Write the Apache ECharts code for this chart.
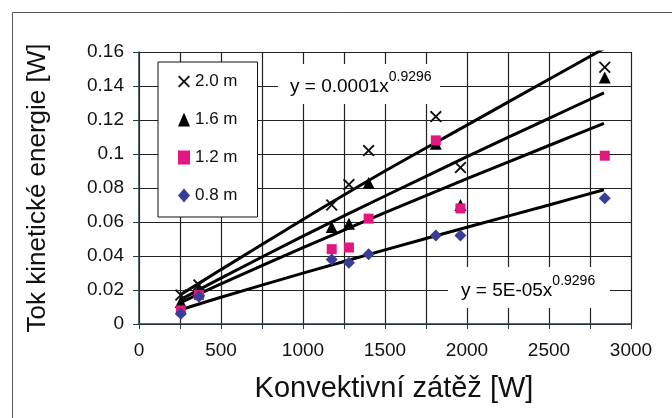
<!DOCTYPE html>
<html>
<head>
<meta charset="utf-8">
<script src="https://cdn.jsdelivr.net/npm/echarts@6/dist/echarts.min.js"></script>
<style>
  html, body { margin: 0; padding: 0; background: #fff; }
  #chart { width: 672px; height: 418px; }
</style>
</head>
<body>
<div id="chart"></div>
<script>
// measured points (x = konvektivni zatez [W])
var xVals = [255, 365, 1175, 1280, 1400, 1810, 1960, 2840];
var m20 = [0.017, 0.023, 0.070, 0.082, 0.102, 0.122, 0.092, 0.151];
var m16 = [0.013, 0.020, 0.057, 0.059, 0.083, 0.106, 0.070, 0.145];
var m12 = [0.008, 0.017, 0.044, 0.045, 0.062, 0.108, 0.068, 0.099];
var m08 = [0.006, 0.016, 0.038, 0.036, 0.041, 0.052, 0.052, 0.074];

// trend lines
var xFit = [250, 500, 1000, 1500, 2000, 2500, 2835];
var fit20 = [0.017, 0.032, 0.0615, 0.090, 0.117, 0.144, 0.162];
var fit16 = [0.0142, 0.027, 0.0517, 0.0753, 0.0984, 0.121, 0.136];
var fit12 = [0.0124, 0.0236, 0.0449, 0.0655, 0.0855, 0.105, 0.118];
var fit08 = [0.0082, 0.0157, 0.0299, 0.0436, 0.0569, 0.070, 0.079];

var names = ['2.0 m', '1.6 m', '1.2 m', '0.8 m'];
var xTicks = [0, 500, 1000, 1500, 2000, 2500, 3000];

var FONT = '"Liberation Sans", Arial, sans-serif';
var crossPath = 'path://M0,1.1L1.1,0L5,3.9L8.9,0L10,1.1L6.1,5L10,8.9L8.9,10L5,6.1L1.1,10L0,8.9L3.9,5Z';

function pairs(xs, ys) {
	var out = [];
	for (var i = 0; i < xs.length; i++) {
		out.push([xs[i], ys[i]]);
	}
	return out;
}

function fitLine(ys) {
	return {
		type : 'line',
		data : pairs(xFit, ys),
		showSymbol : false,
		symbol : 'none',
		smooth : 0.3,
		silent : true,
		z : 2,
		lineStyle : { color : '#000', width : 3 }
	};
}

function pts(name, ys, symbol, size, color) {
	return {
		name : name,
		type : 'scatter',
		data : pairs(xVals, ys),
		symbol : symbol,
		symbolSize : size,
		z : 3,
		itemStyle : { color : color, opacity : 1 }
	};
}

var eqRich = {
	a : { fontFamily : FONT, fontSize : 19, color : '#111', lineHeight : 26, verticalAlign : 'bottom' },
	b : { fontFamily : FONT, fontSize : 14, color : '#111', verticalAlign : 'top', lineHeight : 14 }
};

var chart = echarts.init(document.getElementById('chart'));
chart.setOption({
	animation : false,
	backgroundColor : '#fff',
	textStyle : { fontFamily : FONT, color : '#111' },
	grid : { left : 139, top : 52, right : 41, bottom : 94 },
	legend : {
		data : names,
		orient : 'vertical',
		left : 158,
		top : 62,
		padding : [11, 20, 13, 20],
		itemGap : 21,
		itemWidth : 12,
		itemHeight : 14,
		backgroundColor : '#fff',
		borderColor : '#111',
		borderWidth : 1,
		borderRadius : 0,
		textStyle : { fontFamily : FONT, fontSize : 17, color : '#111' }
	},
	xAxis : {
		type : 'value',
		min : 0,
		max : 3000,
		interval : 250,
		name : 'Konvektivní zátěž [W]',
		nameLocation : 'middle',
		nameGap : 50,
		nameTextStyle : { fontFamily : FONT, fontSize : 29, color : '#111', padding : [0, 0, 0, 18] },
		axisLine : { show : true, lineStyle : { color : '#223b45', width : 1.5 } },
		axisTick : { show : true, length : 5, lineStyle : { color : '#223b45' } },
		axisLabel : {
			fontFamily : FONT, fontSize : 19, color : '#111', margin : 17,
			formatter : function(v) { return xTicks.indexOf(v) >= 0 ? String(v) : ''; }
		},
		splitLine : { show : true, lineStyle : { color : '#222', width : 1.2 } }
	},
	yAxis : {
		type : 'value',
		min : 0,
		max : 0.16,
		interval : 0.02,
		name : 'Tok kinetické energie [W]',
		nameLocation : 'middle',
		nameGap : 88,
		nameTextStyle : { fontFamily : FONT, fontSize : 26, color : '#111' },
		axisLine : { show : true, lineStyle : { color : '#223b45', width : 1.5 } },
		axisTick : { show : true, length : 6, lineStyle : { color : '#223b45' } },
		axisLabel : {
			fontFamily : FONT, fontSize : 19, color : '#111', margin : 15,
			formatter : function(v) { return String(Math.round(v * 100) / 100); }
		},
		splitLine : { show : true, lineStyle : { color : '#222', width : 1.2 } }
	},
	series : [
		fitLine(fit20),
		fitLine(fit16),
		fitLine(fit12),
		fitLine(fit08),
		pts('2.0 m', m20, crossPath, 12, '#111'),
		pts('1.6 m', m16, 'triangle', 12, '#000'),
		pts('1.2 m', m12, 'rect', 10, '#e2177f'),
		pts('0.8 m', m08, 'diamond', 12, '#3a3d96')
	],
	graphic : [
		{
			type : 'rect', left : 10, top : 10, silent : true,
			shape : { width : 700, height : 500 },
			style : { fill : 'none', stroke : '#555', lineWidth : 1 }
		},
		{
			type : 'rect', left : 278, top : 64, z : 10,
			shape : { width : 162, height : 40 },
			style : { fill : '#fff' }
		},
		{
			type : 'text', left : 290, top : 70, z : 11,
			style : { text : '{a|y = 0.0001x}{b|0.9296}', rich : eqRich }
		},
		{
			type : 'rect', left : 448, top : 267, z : 10,
			shape : { width : 162, height : 41 },
			style : { fill : '#fff' }
		},
		{
			type : 'text', left : 461, top : 274, z : 11,
			style : { text : '{a|y = 5E-05x}{b|0.9296}', rich : eqRich }
		}
	]
});
</script>
</body>
</html>
